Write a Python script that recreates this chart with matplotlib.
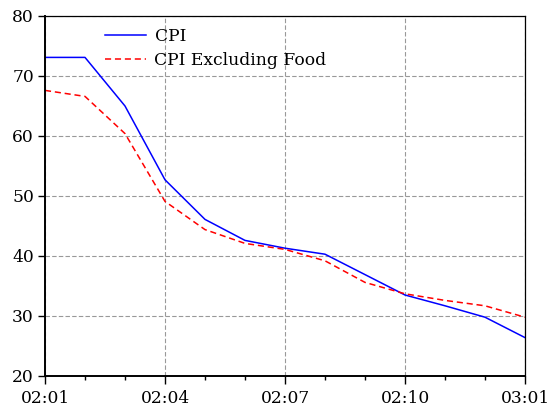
import numpy as np
import matplotlib
matplotlib.use('Agg')
import matplotlib.pyplot as plt
from matplotlib.ticker import MultipleLocator

# monthly observations, 2002:01 - 2003:01
months = ['02:01', '02:02', '02:03', '02:04', '02:05', '02:06', '02:07',
          '02:08', '02:09', '02:10', '02:11', '02:12', '03:01']
cpi = [73.1, 73.1, 65.0, 52.7, 46.1, 42.6, 41.3, 40.3, 36.9, 33.5, 31.7, 29.8, 26.4]
cpi_ex_food = [67.6, 66.6, 60.4, 49.1, 44.4, 42.1, 41.1, 39.2, 35.6, 33.7, 32.6, 31.7, 29.8]

plt.rcParams['font.family'] = ['DejaVu Serif']
plt.rcParams['font.size'] = 12.3

fig = plt.figure(figsize=(5.5, 4.09), dpi=100)
ax = fig.add_axes([45 / 550, 33 / 409, 480 / 550, 360 / 409])

x = np.arange(len(months))
ax.plot(x, cpi, color='blue', lw=1.1, label='CPI')
ax.plot(x, cpi_ex_food, color='red', lw=1.1, ls=(0, (4, 2.5)), label='CPI Excluding Food')

ax.set_xlim(0, len(months) - 1)
ax.set_ylim(20, 80)
ax.set_xticks(x[::3])
ax.set_xticklabels(months[::3])
ax.set_xticks(x, minor=True)
ax.yaxis.set_major_locator(MultipleLocator(10))

ax.tick_params(axis='x', which='major', direction='out', length=6, width=1, pad=4)
ax.tick_params(axis='x', which='minor', direction='out', length=3, width=1)
ax.tick_params(axis='y', which='major', direction='out', length=5, width=1, pad=3)

ax.grid(True, which='major', color='#999999', ls=(0, (4, 2)), lw=0.8)
for side in ['left', 'bottom']:
    ax.spines[side].set_linewidth(1.4)
for side in ['top', 'right']:
    ax.spines[side].set_linewidth(0.9)

leg = ax.legend(loc='upper left', bbox_to_anchor=(0.1, 1.0), frameon=False,
                handlelength=2.4, handletextpad=0.5, labelspacing=0.42,
                borderaxespad=0.3)

fig.savefig('out.png', dpi=100)
